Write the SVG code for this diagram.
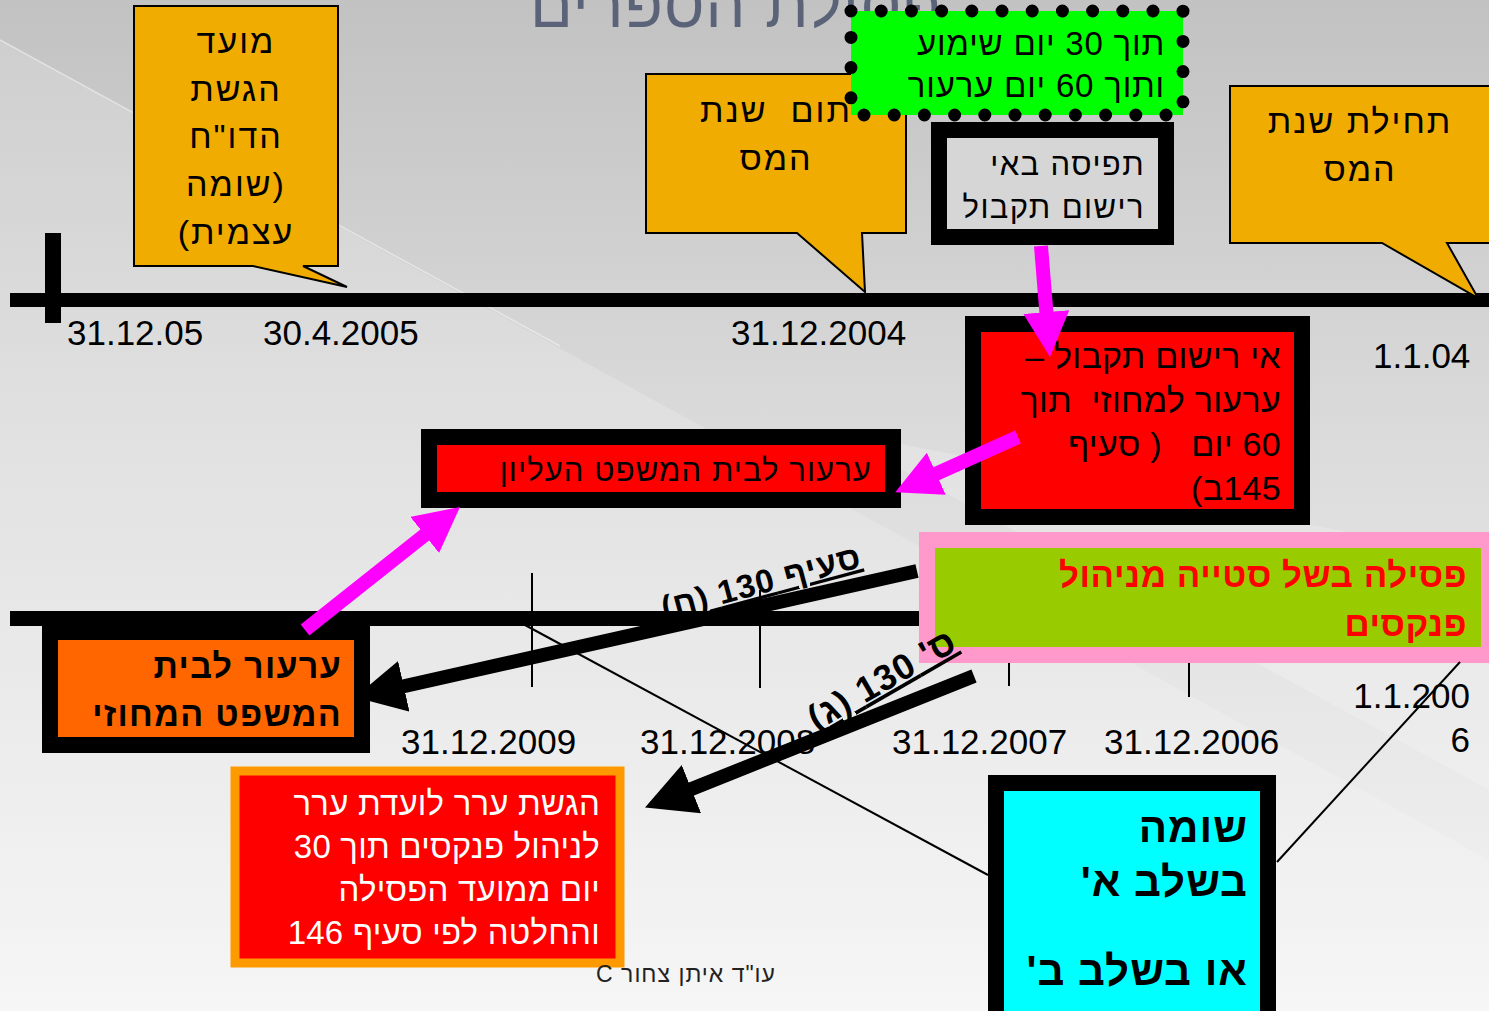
<svg xmlns="http://www.w3.org/2000/svg" width="1489" height="1011" viewBox="0 0 1489 1011">
<defs>
<linearGradient id="bg" x1="0" y1="0" x2="0" y2="1">
<stop offset="0" stop-color="#c2c2c2"/>
<stop offset="0.45" stop-color="#dcdcdc"/>
<stop offset="1" stop-color="#f4f4f4"/>
</linearGradient>
<marker id="mh" markerUnits="userSpaceOnUse" markerWidth="50" markerHeight="50" refX="8" refY="23" orient="auto">
<path d="M0,0 L45,23 L0,46 Z" fill="#ff00ff"/>
</marker>
<marker id="bh" markerUnits="userSpaceOnUse" markerWidth="56" markerHeight="56" refX="8" refY="26" orient="auto">
<path d="M0,0 L50,26 L0,52 Z" fill="#000"/>
</marker>
<style>
text{font-family:"Liberation Sans","DejaVu Sans",sans-serif;fill:#000;white-space:pre}
.rtl{direction:rtl;unicode-bidi:embed}
.date{font-size:35px}
.call{font-size:34px;text-anchor:middle;letter-spacing:2px}
.callout{fill:#f0ac00;stroke:#000;stroke-width:2}
.mag{stroke:#ff00ff;stroke-width:14;fill:none}
.blk{stroke:#000;stroke-width:14;fill:none}
.thin{stroke:#000;stroke-width:2;fill:none}
</style>
</defs>
<rect width="1489" height="1011" fill="url(#bg)"/>
<polygon points="0,40 1489,860 1489,1011 0,1011" fill="#ffffff" opacity="0.18"/>
<polygon points="830,430 1489,790 1489,560" fill="#ffffff" opacity="0.2"/>
<line x1="0" y1="40" x2="560" y2="346" stroke="#eeeeee" stroke-width="1.5" opacity="0.7"/>

<text x="530" y="27" class="rtl" font-size="63" style="fill:#5a6378;letter-spacing:1px" text-anchor="end">פסילת הספרים</text>

<g id="timeline-top">
<rect x="10" y="293" width="1479" height="14" fill="#000"/>
<rect x="45" y="233" width="16" height="90" fill="#000"/>
<text x="67" y="345" class="date">31.12.05</text>
<text x="263" y="345" class="date">30.4.2005</text>
<text x="731" y="345" class="date">31.12.2004</text>
<text x="1373" y="368" class="date">1.1.04</text>
</g>
<g id="timeline-bottom">
<rect x="10" y="611" width="920" height="15" fill="#000"/>
<line x1="532" y1="573" x2="532" y2="687" class="thin"/>
<line x1="760" y1="590" x2="760" y2="688" class="thin"/>
<line x1="1009" y1="660" x2="1009" y2="686" class="thin"/>
<line x1="1189" y1="660" x2="1189" y2="697" class="thin"/>
<text x="401" y="754" class="date">31.12.2009</text>
<text x="640" y="754" class="date">31.12.2008</text>
<text x="892" y="754" class="date">31.12.2007</text>
<text x="1104" y="754" class="date">31.12.2006</text>
<text x="1470" y="708" class="date" text-anchor="end">1.1.200</text>
<text x="1470" y="752" class="date" text-anchor="end">6</text>
</g>

<g id="callout-report">
<path d="M134,6 H338 V266 H303 L347,287 L253,266 H134 Z" class="callout"/>
<text x="236" y="53" class="call rtl">מועד</text>
<text x="236" y="101" class="call rtl">הגשת</text>
<text x="236" y="148" class="call rtl">הדו"ח</text>
<text x="236" y="196" class="call rtl">(שומה</text>
<text x="236" y="244" class="call rtl">עצמית)</text>
</g>

<g id="callout-end-year">
<path d="M646,74 H906 V233 H862 L865,292 L797,233 H646 Z" class="callout"/>
<text x="776" y="122" class="call rtl">תום  שנת</text>
<text x="776" y="170" class="call rtl">המס</text>
</g>

<g id="callout-start-year">
<path d="M1230,86 H1495 V243 H1447 L1478,298 L1382,243 H1230 Z" class="callout"/>
<text x="1360" y="133" class="call rtl">תחילת שנת</text>
<text x="1360" y="181" class="call rtl">המס</text>
</g>

<g id="box-hearing">
<rect x="851" y="11" width="332" height="104" fill="#00ff00"/>
<rect x="851" y="11" width="332" height="104" fill="none" stroke="#000" stroke-width="13" stroke-linecap="round" stroke-dasharray="0 30.2"/>
<text x="1165" y="55" class="rtl" font-size="33" style="letter-spacing:0.8px" text-anchor="start">תוך 30 יום שימוע</text>
<text x="1165" y="97" class="rtl" font-size="33" style="letter-spacing:0.8px" text-anchor="start">ותוך 60 יום ערעור</text>
</g>

<g id="box-seizure">
<rect x="939" y="130" width="227" height="107" fill="#d6d6d6" stroke="#000" stroke-width="16"/>
<text x="1145" y="175" class="rtl" font-size="31" style="letter-spacing:1.4px" text-anchor="start">תפיסה באי</text>
<text x="1145" y="218" class="rtl" font-size="31" style="letter-spacing:1.4px" text-anchor="start">רישום תקבול</text>
</g>

<g id="box-no-record">
<rect x="973" y="324" width="329" height="193" fill="#ff0000" stroke="#000" stroke-width="16"/>
<text x="1281" y="368" class="rtl" font-size="34" style="letter-spacing:0.3px" text-anchor="start">אי רישום תקבול –</text>
<text x="1281" y="412" class="rtl" font-size="34" style="letter-spacing:0.3px" text-anchor="start">ערעור למחוזי  תוך</text>
<text x="1281" y="456" class="rtl" font-size="34" style="letter-spacing:0.3px" text-anchor="start">60 יום   ( סעיף</text>
<text x="1281" y="500" class="rtl" font-size="34" style="letter-spacing:0.3px" text-anchor="start">145ב)</text>
</g>

<g id="box-supreme">
<rect x="429" y="437" width="464" height="63" fill="#ff0000" stroke="#000" stroke-width="16"/>
<text x="872" y="481" class="rtl" font-size="31" style="letter-spacing:1.1px" text-anchor="start">ערעור לבית המשפט העליון</text>
</g>

<g id="box-district">
<rect x="50" y="632" width="312" height="113" fill="#ff6600" stroke="#000" stroke-width="16"/>
<text x="342" y="678" class="rtl" font-size="34" font-weight="bold" style="letter-spacing:1.3px" text-anchor="start">ערעור לבית</text>
<text x="342" y="726" class="rtl" font-size="34" font-weight="bold" style="letter-spacing:1.3px" text-anchor="start">המשפט המחוזי</text>
</g>

<g id="box-disqualify">
<rect x="927" y="540" width="562" height="115" fill="#99cc00" stroke="#ff99cc" stroke-width="16"/>
<text x="1467" y="587" class="rtl" font-size="35" font-weight="bold" style="fill:#ff0000;letter-spacing:0.5px" text-anchor="start">פסילה בשל סטייה מניהול</text>
<text x="1467" y="636" class="rtl" font-size="35" font-weight="bold" style="fill:#ff0000;letter-spacing:0.5px" text-anchor="start">פנקסים</text>
</g>

<g id="box-committee">
<rect x="235" y="771" width="385" height="192" fill="#ff0000" stroke="#ff9900" stroke-width="9"/>
<text x="600" y="815" class="rtl" font-size="33" style="fill:#ffffff;letter-spacing:0.2px" text-anchor="start">הגשת ערר לועדת ערר</text>
<text x="600" y="858" class="rtl" font-size="33" style="fill:#ffffff;letter-spacing:0.2px" text-anchor="start">לניהול פנקסים תוך 30</text>
<text x="600" y="901" class="rtl" font-size="33" style="fill:#ffffff;letter-spacing:0.2px" text-anchor="start">יום ממועד הפסילה</text>
<text x="600" y="944" class="rtl" font-size="33" style="fill:#ffffff;letter-spacing:0.2px" text-anchor="start">והחלטה לפי סעיף 146</text>
</g>

<g id="box-assessment">
<rect x="996" y="783" width="272" height="236" fill="#00ffff" stroke="#000" stroke-width="16"/>
<text x="1248" y="842" class="rtl" font-size="42" font-weight="bold" style="letter-spacing:1px" text-anchor="start">שומה</text>
<text x="1248" y="896" class="rtl" font-size="42" font-weight="bold" style="letter-spacing:1px" text-anchor="start">בשלב א'</text>
<text x="1248" y="985" class="rtl" font-size="42" font-weight="bold" style="letter-spacing:1px" text-anchor="start">או בשלב ב'</text>
</g>

<g id="connectors">
<line x1="525" y1="625" x2="988" y2="875" class="thin"/>
<line x1="1277" y1="862" x2="1460" y2="662" class="thin"/>
<line x1="1041" y1="246" x2="1047" y2="320" class="mag" marker-end="url(#mh)"/>
<line x1="1018" y1="437" x2="929" y2="477" class="mag" marker-end="url(#mh)"/>
<line x1="305" y1="630" x2="431" y2="530" class="mag" marker-end="url(#mh)"/>
<line x1="917" y1="571" x2="396" y2="688" class="blk" marker-end="url(#bh)"/>
<line x1="974" y1="676" x2="684" y2="792" class="blk" marker-end="url(#bh)"/>
<text transform="translate(764,593) rotate(-15)" class="rtl" font-size="33" font-weight="bold" style="letter-spacing:1px" text-anchor="middle" text-decoration="underline">סעיף 130 (ח)</text>
<text transform="translate(888,690) rotate(-30)" class="rtl" font-size="36" font-weight="bold" style="letter-spacing:1px" text-anchor="middle" text-decoration="underline">ס' 130 (ג)</text>
</g>

<text x="686" y="982" class="rtl" font-size="23" style="fill:#222;letter-spacing:1px" text-anchor="middle">עו"ד איתן צחור C</text>
</svg>
